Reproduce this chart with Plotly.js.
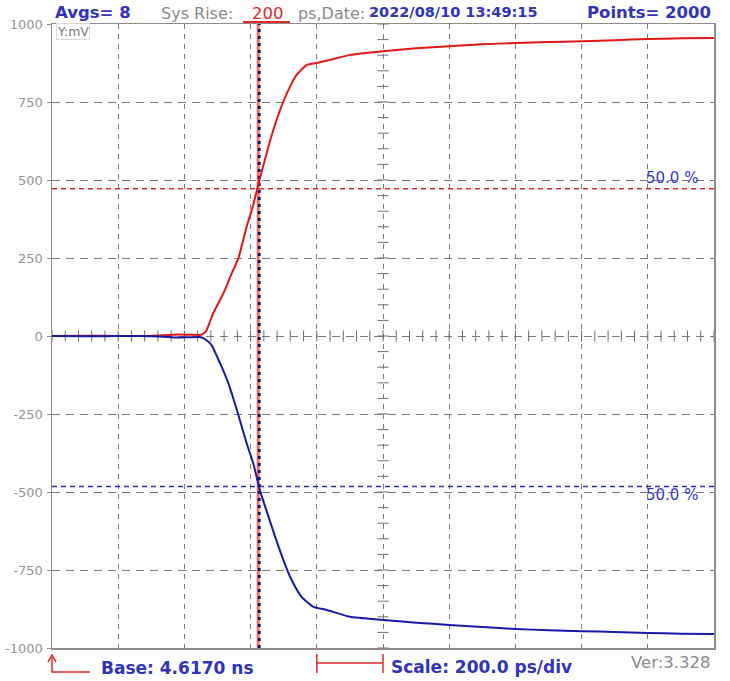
<!DOCTYPE html>
<html>
<head>
<meta charset="utf-8">
<script src="https://cdn.plot.ly/plotly-3.0.1.min.js"></script>
<style>html,body{margin:0;padding:0;background:#fff;}#chart{width:730px;height:681px;}</style>
</head>
<body>
<div id="chart"></div>
<script>
// ---- data (time in ps after base 4.6170 ns, amplitude in mV) ----
const redTime  = [0,100,200,300,350,380,420,450,465,487,518,543,563,588,608,620,643,664,689,714,739,770,803,840,900,1000,1100,1200,1300,1400,1500,1600,1700,1800,1900,2000];
const redVolts = [0,1,0,1,3,5,4,4,15,73,137,201,249,350,420,472,564,644,724,788,837,869,876,885,901,913,922,929,935,939,942,945,948,952,954,955];
const blueTime  = [0,100,200,300,350,380,420,450,465,482,508,533,563,588,608,628,649,674,699,724,754,790,830,900,1000,1100,1200,1300,1400,1500,1600,1700,1800,1900,2000];
const blueVolts = [0,-1,0,-1,-3,-5,-4,-4,-12,-29,-88,-152,-253,-344,-408,-494,-563,-643,-718,-782,-836,-868,-878,-900,-910,-919,-926,-933,-939,-943,-946,-949,-952,-954,-955];
const redHalf = 472;      // 50.0 % level of red trace
const blueHalf = -482;    // 50.0 % level of blue trace
const redCross = 623;     // red 50% crossing time
const blueCross = 626;    // blue 50% crossing time
const yTicks = [1000,750,500,250,0,-250,-500,-750,-1000];
const xRange = [0,2000];
const yRange = [-1000,1000];
const divPs = 200;        // 200.0 ps/div
const scaleBar = [800,1000];

// ---- geometry helpers (pixel -> paper) ----
const L=52, R=714, T=24, B=648;
const px = v => (v-L)/(R-L);
const py = v => (B-v)/(B-T);

// center crosshair minor ticks (1/5 division)
const minorX=[], minorXY=[];
for(let t=xRange[0]; t<=xRange[1]; t+=divPs/5){ minorX.push(t); minorXY.push(0); }
const minorY=[], minorYX=[];
for(let v=yRange[0]; v<=yRange[1]; v+=50){ minorY.push(v); minorYX.push(1000); }

const traces = [
  {x:minorX, y:minorXY, mode:'markers', marker:{symbol:'line-ns', size:8, line:{width:1,color:'#6e6e6e'}}, hoverinfo:'skip'},
  {x:minorYX, y:minorY, mode:'markers', marker:{symbol:'line-ew', size:8, line:{width:1,color:'#6e6e6e'}}, hoverinfo:'skip'},
  {x:xRange, y:[redHalf,redHalf], mode:'lines', line:{color:'#d42a2a', width:1.5, dash:'5px,4px'}},
  {x:xRange, y:[blueHalf,blueHalf], mode:'lines', line:{color:'#2a2aa8', width:1.5, dash:'5px,4px'}},
  {x:[redCross,redCross], y:yRange, mode:'lines', line:{color:'rgba(235,60,60,0.75)', width:3}},
  {x:[blueCross,blueCross], y:yRange, mode:'lines', line:{color:'#1a1a60', width:3, dash:'3px,4px'}},
  {x:redTime, y:redVolts, mode:'lines', line:{color:'#e01818', width:2, shape:'spline', smoothing:0.5}},
  {x:blueTime, y:blueVolts, mode:'lines', line:{color:'#1a1aa8', width:2, shape:'spline', smoothing:0.5}}
];

const blue='#2f34b8', gray='#8a8a8a', red='#e02828';
const ann = (text,x,y,opts)=>Object.assign({text, xref:'paper', yref:'paper', x:px(x), y:py(y), xanchor:'left', yanchor:'middle', showarrow:false}, opts||{});
const annotations = [
  ann('<b>Avgs= 8</b>',53,12,{font:{family:'DejaVu Sans',size:16.5,color:blue}}),
  ann('Sys Rise:',159,13,{font:{family:'DejaVu Sans',size:16,color:gray}}),
  ann('200',250,13,{font:{family:'DejaVu Sans',size:16.5,color:red}}),
  ann('ps,Date:',296,13,{font:{family:'DejaVu Sans',size:16,color:gray}}),
  ann('<b>2022/08/10 13:49:15</b>',367,12,{font:{family:'DejaVu Sans',size:14.5,color:blue}}),
  ann('<b>Points= 2000</b>',713,12,{xanchor:'right',font:{family:'DejaVu Sans',size:16.5,color:blue}}),
  ann('Y:mV',56,32,{font:{family:'DejaVu Sans',size:12.5,color:'#7a7a7a'},bgcolor:'#ffffff',bordercolor:'#d8d8d8',borderwidth:1,borderpad:0}),
  ann('50.0 %',644,178,{font:{family:'DejaVu Sans',size:15,color:'#3838d0'}}),
  ann('50.0 %',644,495,{font:{family:'DejaVu Sans',size:15,color:'#3838d0'}}),
  ann('<b>Base: 4.6170 ns</b>',99,668,{font:{family:'DejaVu Sans',size:17,color:blue}}),
  ann('<b>Scale: 200.0 ps/div</b>',389,667,{font:{family:'DejaVu Sans',size:17,color:blue}}),
  ann('Ver:3.328',712,662,{xanchor:'right',font:{family:'DejaVu Sans',size:16.5,color:gray}})
];

const shapes = [
  {type:'line', xref:'paper', yref:'paper', x0:px(243), x1:px(290), y0:py(22), y1:py(22), line:{color:red,width:2}},
  {type:'path', xref:'paper', yref:'paper', path:`M ${px(52)} ${py(657)} L ${px(52)} ${py(672)} L ${px(90)} ${py(672)}`, line:{color:red,width:1.5}},
  {type:'path', xref:'paper', yref:'paper', path:`M ${px(48)} ${py(662)} L ${px(52)} ${py(655)} L ${px(56)} ${py(662)}`, line:{color:red,width:1.5}},
  {type:'line', xref:'x', yref:'paper', x0:scaleBar[0], x1:scaleBar[1], y0:py(663), y1:py(663), line:{color:red,width:1.5}},
  {type:'line', xref:'x', yref:'paper', x0:scaleBar[0], x1:scaleBar[0], y0:py(654), y1:py(673), line:{color:red,width:1.5}},
  {type:'line', xref:'x', yref:'paper', x0:scaleBar[1], x1:scaleBar[1], y0:py(654), y1:py(673), line:{color:red,width:1.5}}
];

const layout = {
  width:730, height:681,
  margin:{l:L, r:730-R, t:T, b:681-B, pad:0},
  paper_bgcolor:'#ffffff', plot_bgcolor:'#ffffff',
  showlegend:false, hovermode:false,
  xaxis:{range:xRange, dtick:divPs, tick0:0, showticklabels:false, ticks:'',
    showgrid:true, gridcolor:'#7a7a7a', gridwidth:1, griddash:'5px,5px',
    showline:true, mirror:true, linecolor:'#8c8c8c', linewidth:1.5, zeroline:false, fixedrange:true},
  yaxis:{range:yRange, tickmode:'array', tickvals:yTicks, ticktext:yTicks.map(String),
    ticks:'outside', ticklen:4, tickcolor:'#8c8c8c', ticklabelstandoff:1,
    tickfont:{family:'DejaVu Sans', size:13, color:'#959595'},
    showgrid:true, gridcolor:'#7a7a7a', gridwidth:1, griddash:'8px,6px',
    showline:true, mirror:true, linecolor:'#8c8c8c', linewidth:1.5, zeroline:false, fixedrange:true},
  annotations, shapes
};

Plotly.newPlot('chart', traces, layout, {displayModeBar:false, staticPlot:true});
</script>
</body>
</html>
